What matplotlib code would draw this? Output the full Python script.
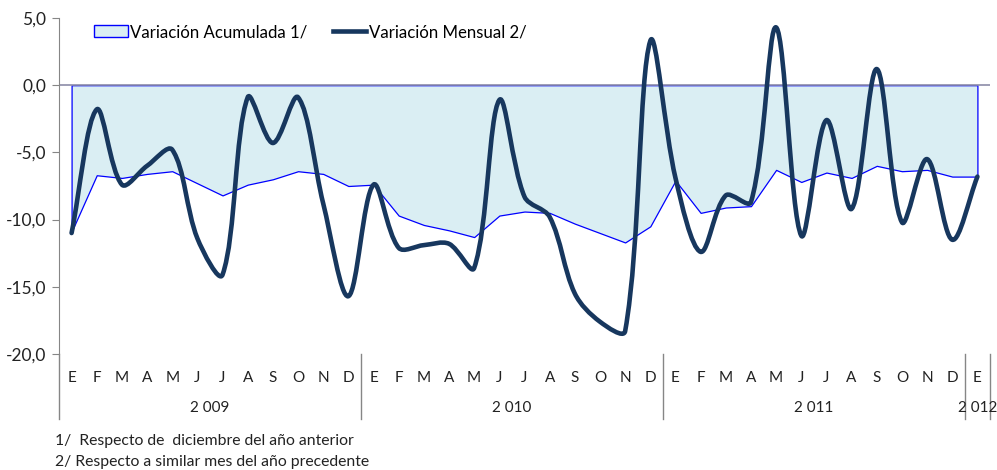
import numpy as np
import matplotlib
matplotlib.use("Agg")
import matplotlib.pyplot as plt
from matplotlib.path import Path
from matplotlib.patches import PathPatch, Patch
from matplotlib.lines import Line2D

plt.rcParams['font.family'] = ['Lato', 'DejaVu Sans']

meses = ["E", "F", "M", "A", "M", "J", "J", "A", "S", "O", "N", "D"] * 3 + ["E"]
anios = ["2 009", "2 010", "2 011", "2 012"]

# Variación acumulada 1/ (respecto de diciembre del año anterior)
acumulada = [-10.9, -6.7, -6.9, -6.6, -6.4, -7.3, -8.2, -7.4, -7.0, -6.4, -6.6, -7.5,
             -7.4, -9.7, -10.4, -10.8, -11.3, -9.7, -9.4, -9.5, -10.3, -11.0, -11.7, -10.5,
             -7.1, -9.5, -9.1, -9.0, -6.3, -7.2, -6.5, -6.9, -6.0, -6.4, -6.3, -6.8,
             -6.8]

# Variación mensual 2/ (respecto a similar mes del año precedente)
mensual = [-11.0, -1.8, -7.4, -6.0, -4.8, -11.4, -14.1, -0.9, -4.3, -0.9, -8.8, -15.7,
           -7.4, -12.1, -11.9, -11.8, -13.6, -1.1, -8.3, -9.8, -15.5, -17.6, -18.3, 3.3,
           -6.9, -12.4, -8.2, -8.7, 4.3, -11.2, -2.6, -9.2, 1.2, -10.2, -5.5, -11.5,
           -6.8]

x = np.arange(len(meses))


def smooth_path(xs, ys, sx=25.1, sy=13.45):
    # smoothed line: cubic Bezier, tangents weighted by segment length (in pixels)
    xs = np.asarray(xs, float)
    ys = np.asarray(ys, float)
    n = len(xs)
    seg = np.hypot(np.diff(xs) * sx, np.diff(ys) * sy)
    cin, cout = [], []
    for i in range(n):
        a = max(i - 1, 0)
        b = min(i + 1, n - 1)
        tx, ty = xs[b] - xs[a], ys[b] - ys[a]
        d1 = seg[i - 1] if i > 0 else 0.0
        d2 = seg[i] if i < n - 1 else 0.0
        tot = d1 + d2
        f1 = d1 / tot / 3 if tot else 0
        f2 = d2 / tot / 3 if tot else 0
        cin.append((xs[i] - tx * f1, ys[i] - ty * f1))
        cout.append((xs[i] + tx * f2, ys[i] + ty * f2))
    verts = [(xs[0], ys[0])]
    codes = [Path.MOVETO]
    for i in range(n - 1):
        verts += [cout[i], cin[i + 1], (xs[i + 1], ys[i + 1])]
        codes += [Path.CURVE4] * 3
    return Path(verts, codes)


fig = plt.figure(figsize=(9.97, 4.70), dpi=100)
ax = fig.add_axes([59 / 997, 1 - 354 / 470, (990 - 59) / 997, (354 - 18) / 470])

navy = "#17375E"
ax.fill_between(x, acumulada, 0, facecolor="#DAEEF3", edgecolor="#0000FF", lw=0.9, zorder=1)
ax.axhline(0, color="#8C8CA8", lw=1.2, zorder=2)
ax.add_patch(PathPatch(smooth_path(x, mensual), fill=False, edgecolor=navy, lw=3.3,
                       capstyle="round", joinstyle="round", zorder=3))

ax.set_xlim(-0.5, len(meses) - 0.5)
ax.set_ylim(-20, 5)
ax.set_yticks([5, 0, -5, -10, -15, -20])
ax.set_yticklabels(["5,0", "0,0", "-5,0", "-10,0", "-15,0", "-20,0"])
ax.set_xticks(x)
ax.set_xticklabels(meses)
ax.tick_params(axis="x", length=0, pad=12, labelsize=11, labelcolor="#222222")
ax.tick_params(axis="y", length=5, color="#868686", labelsize=12.5, labelcolor="#222222", pad=4)

for s in ["top", "right", "bottom"]:
    ax.spines[s].set_visible(False)
ax.spines["left"].set_color("#868686")

# separadores del eje de categorías de dos niveles
tr = ax.get_xaxis_transform()
for xd in [-0.5, 11.5, 23.5, 35.5, 36.5]:
    ax.plot([xd, xd], [0, -0.193], transform=tr, color="#868686", lw=1, clip_on=False)

for xc, lab in zip([5.5, 17.5, 29.5, 36], anios):
    ax.text(xc, -0.161, lab, transform=tr, ha="center", va="center", fontsize=11, color="#222222")

handles = [Patch(facecolor="#DAEEF3", edgecolor="#0000FF", lw=1),
           Line2D([0], [0], color=navy, lw=3.3)]
fig.legend(handles, ["Variación Acumulada 1/", "Variación Mensual 2/"], ncol=2, frameon=False,
           loc="center left", bbox_to_anchor=(79 / 997, 1 - 32 / 470), fontsize=12.1,
           handlelength=2.0, handletextpad=0.15, columnspacing=1.5)

fig.text(55 / 997, 1 - 441 / 470, "1/  Respecto de  diciembre del año anterior", fontsize=11.3,
         va="center", color="#222222")
fig.text(55 / 997, 1 - 462 / 470, "2/ Respecto a similar mes del año precedente", fontsize=11.3,
         va="center", color="#222222")

fig.savefig("out.png", dpi=100)
